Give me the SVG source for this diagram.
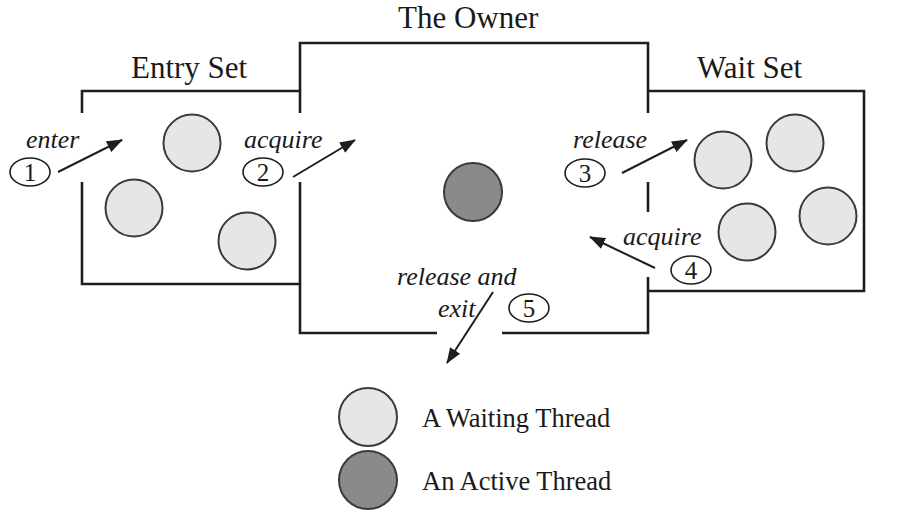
<svg xmlns="http://www.w3.org/2000/svg" width="913" height="523" viewBox="0 0 913 523">
<style>
.wall{fill:none;stroke:#1e1e1e;stroke-width:2.6;stroke-linecap:butt}
.wt{fill:#e6e6e6;stroke:#3a3a3a;stroke-width:2}
.at{fill:#8a8a8a;stroke:#3a3a3a;stroke-width:2}
.title{font-size:31px;fill:#1a1a1a}
.lbl{font-size:26px;font-style:italic;fill:#1a1a1a}
.num{font-size:25px;fill:#1a1a1a;text-anchor:middle}
.leg{font-size:26.5px;fill:#1a1a1a}
.badge{fill:#fff;stroke:#1e1e1e;stroke-width:1.6}
.conn{fill:none;stroke:#1e1e1e;stroke-width:2;marker-end:url(#ah)}
</style>
<defs>
<marker id="ah" markerUnits="userSpaceOnUse" markerWidth="16" markerHeight="12" refX="15" refY="6" orient="auto">
<path d="M0,0 L16,6 L0,12 Z" fill="#1e1e1e"/>
</marker>
</defs>
<rect width="913" height="523" fill="#fff"/>
<g font-family="Liberation Serif, serif">
<g id="entry-set">
<path class="wall" d="M300,91 H82 V113 M82,182 V284 H300"/>
<text class="title" x="131" y="78">Entry Set</text>
<circle class="wt" cx="192" cy="143" r="28.5"/>
<circle class="wt" cx="134" cy="208" r="28.5"/>
<circle class="wt" cx="247" cy="241" r="28.5"/>
</g>

<g id="owner">
<path class="wall" d="M300,113 V43 H648 V113 M300,182 V333 H437 M502,333 H648 V277 M648,182 V212"/>
<text class="title" x="398" y="28">The Owner</text>
<circle class="at" cx="473" cy="192" r="29"/>
</g>

<g id="wait-set">
<path class="wall" d="M648,91 H864 V291 H648"/>
<text class="title" x="697" y="78">Wait Set</text>
<circle class="wt" cx="723" cy="160" r="28.5"/>
<circle class="wt" cx="795" cy="143" r="28.5"/>
<circle class="wt" cx="747" cy="232" r="28.5"/>
<circle class="wt" cx="828" cy="216" r="28.5"/>
</g>

<g id="connectors">
<line class="conn" x1="58" y1="172" x2="122" y2="140"/>
<line class="conn" x1="293" y1="177" x2="355" y2="140"/>
<line class="conn" x1="622" y1="173" x2="687" y2="140"/>
<line class="conn" x1="655" y1="268" x2="590" y2="237"/>
<line class="conn" x1="493" y1="292" x2="447" y2="363"/>
</g>

<g id="step-1">
<text class="lbl" x="26" y="148">enter</text>
<ellipse class="badge" cx="30" cy="172" rx="20" ry="14"/>
<text class="num" x="30" y="181">1</text>
</g>
<g id="step-2">
<text class="lbl" x="244" y="148">acquire</text>
<ellipse class="badge" cx="263" cy="172" rx="20" ry="14"/>
<text class="num" x="263" y="181">2</text>
</g>
<g id="step-3">
<text class="lbl" x="573" y="148">release</text>
<ellipse class="badge" cx="585" cy="173" rx="20" ry="14"/>
<text class="num" x="585" y="182">3</text>
</g>
<g id="step-4">
<text class="lbl" x="623" y="245">acquire</text>
<ellipse class="badge" cx="691" cy="270" rx="20" ry="14"/>
<text class="num" x="691" y="279">4</text>
</g>
<g id="step-5">
<text class="lbl" x="397" y="285">release and</text>
<text class="lbl" x="438" y="317">exit</text>
<ellipse class="badge" cx="529" cy="308" rx="20" ry="14"/>
<text class="num" x="529" y="317">5</text>
</g>

<g id="legend">
<circle class="wt" cx="368" cy="417" r="29"/>
<text class="leg" x="422" y="427">A Waiting Thread</text>
<circle class="at" cx="368" cy="480" r="29"/>
<text class="leg" x="422" y="490">An Active Thread</text>
</g>
</g>
</svg>
